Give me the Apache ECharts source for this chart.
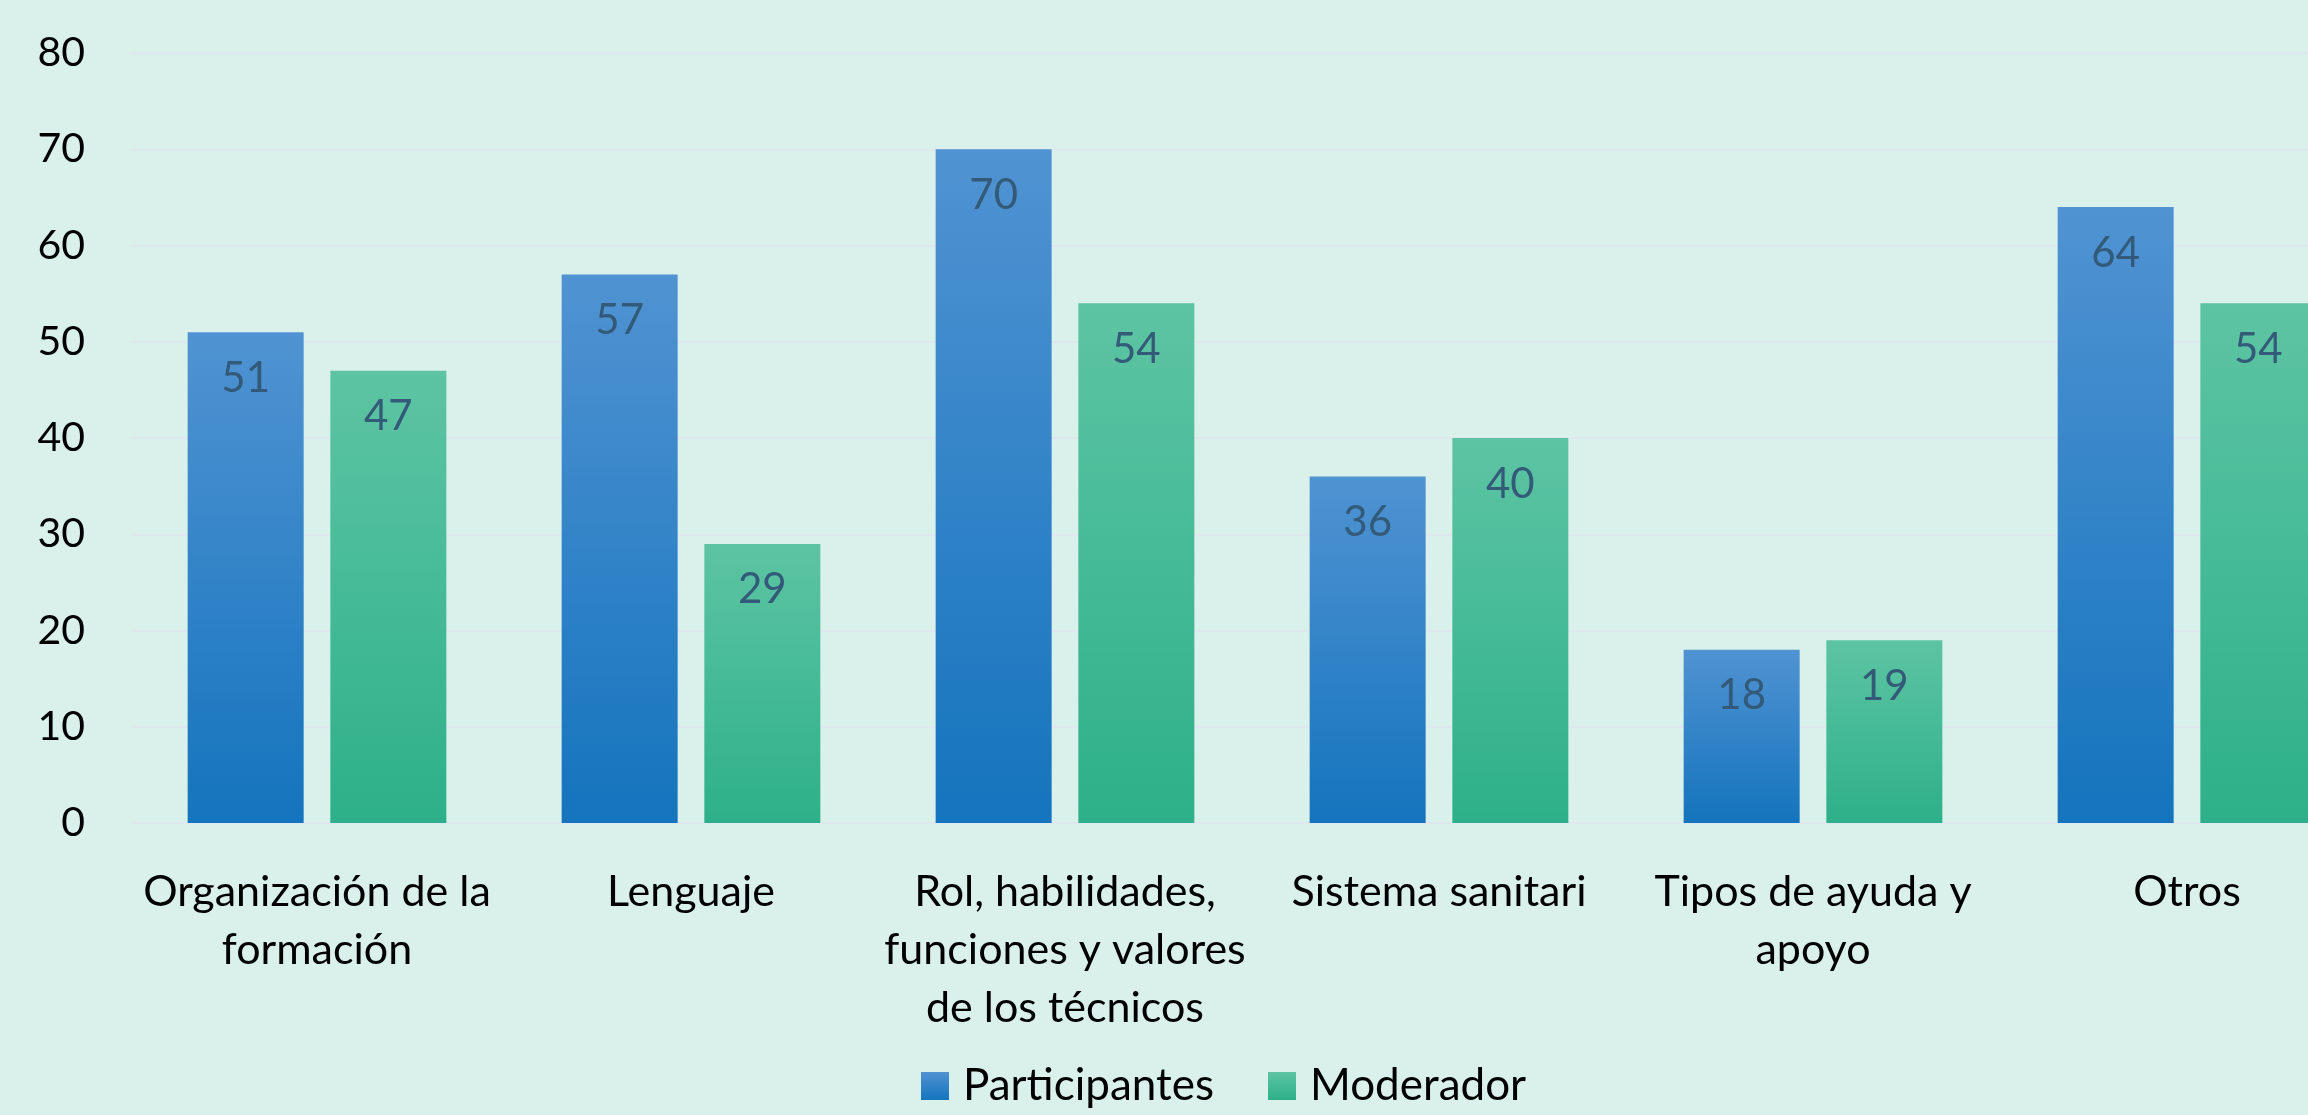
<!DOCTYPE html>
<html>
<head>
<meta charset="utf-8">
<script src="https://cdn.jsdelivr.net/npm/echarts@6/dist/echarts.min.js"></script>
<style>
  html, body { margin: 0; padding: 0; background: #daf0ea; }
  #main { width: 2308px; height: 1115px; }
</style>
</head>
<body>
<div id="main"></div>
<script>
const categories = [
  'Organización de la\nformación',
  'Lenguaje',
  'Rol, habilidades,\nfunciones y valores\nde los técnicos',
  'Sistema sanitari',
  'Tipos de ayuda y\napoyo',
  'Otros'
];
const participantes = [51, 57, 70, 36, 18, 64];
const moderador = [47, 29, 54, 40, 19, 54];
const yTicks = { min: 0, max: 80, interval: 10 };

const chart = echarts.init(document.getElementById('main'));

const grad = (top, bottom) => new echarts.graphic.LinearGradient(0, 0, 0, 1, [
  { offset: 0, color: top },
  { offset: 1, color: bottom }
]);

const labelStyle = {
  show: true,
  position: 'insideTop',
  distance: 25,
  color: '#335a78',
  fontFamily: 'Lato',
  fontSize: 42
};

const option = {
  backgroundColor: '#daf0ea',
  textStyle: { fontFamily: 'Lato' },
  // grid runs past the right edge, the last bar is cut off like in the source
  grid: { left: 130, top: 53, width: 2244, height: 770, outerBoundsMode: 'none', containLabel: false },
  legend: {
    top: 1059,
    left: 916,
    icon: 'rect',
    itemWidth: 28,
    itemHeight: 28,
    itemGap: 54,
    textStyle: { fontSize: 44, color: '#000', fontFamily: 'Lato', padding: [0, 0, 0, 9] },
    data: ['Participantes', 'Moderador']
  },
  xAxis: {
    type: 'category',
    data: categories,
    axisLine: { show: false },
    axisTick: { show: false },
    axisLabel: {
      interval: 0,
      margin: 40,
      color: '#000',
      fontSize: 43,
      lineHeight: 58,
      fontFamily: 'Lato'
    }
  },
  yAxis: {
    type: 'value',
    min: yTicks.min,
    max: yTicks.max,
    interval: yTicks.interval,
    axisLabel: { margin: 45, color: '#000', fontSize: 41, fontFamily: 'Lato' },
    splitLine: { lineStyle: { color: '#dee8ee', width: 2 } }
  },
  series: [
    {
      name: 'Participantes',
      type: 'bar',
      barWidth: 116,
      barGap: '23%',
      itemStyle: { color: grad('#5093d2', '#1474bd') },
      label: labelStyle,
      data: participantes
    },
    {
      name: 'Moderador',
      type: 'bar',
      barWidth: 116,
      itemStyle: { color: grad('#5dc4a3', '#2db089') },
      label: labelStyle,
      data: moderador
    }
  ]
};

option && chart.setOption(option);
</script>
</body>
</html>
